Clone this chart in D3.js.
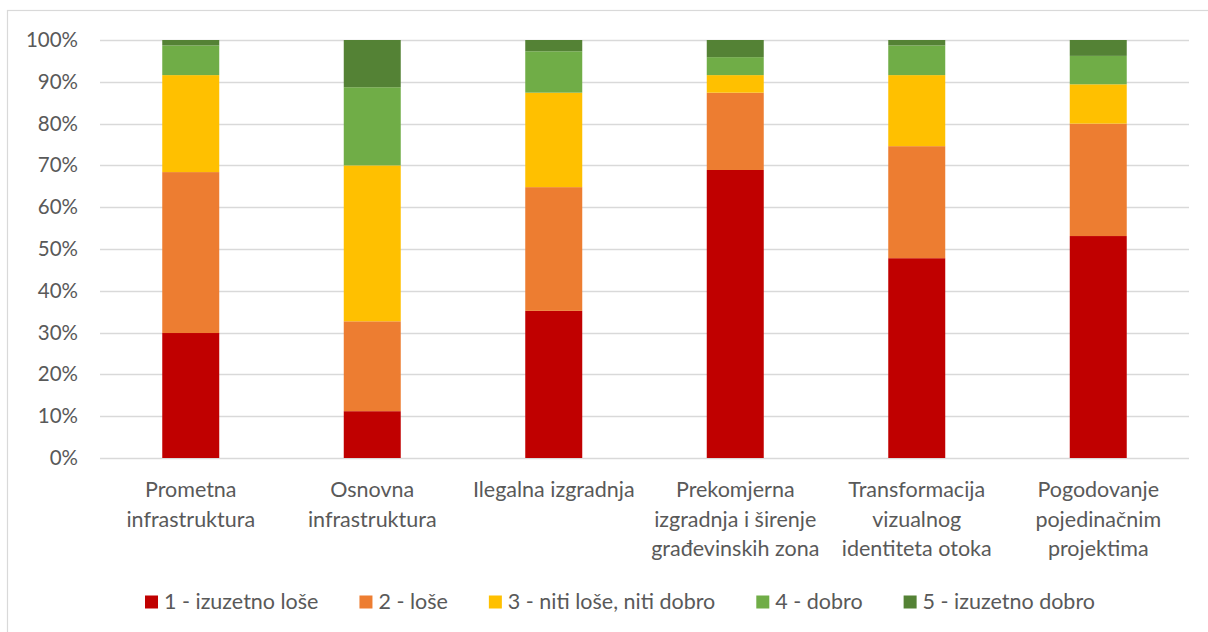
<!DOCTYPE html>
<html>
<head>
<meta charset="utf-8">
<script src="https://cdn.jsdelivr.net/npm/d3@7"></script>
<style>
	body { margin: 0; background: #fff; }
	svg { display: block; font-family: Lato, "Open Sans", sans-serif; }
	.tick-label, .cat-label, .legend-label { fill: #595959; }
</style>
</head>
<body>
<svg id="chart" width="1208" height="632"></svg>
<script>
// categories (lines of each x label)
var categories = [
	["Prometna", "infrastruktura"],
	["Osnovna", "infrastruktura"],
	["Ilegalna izgradnja"],
	["Prekomjerna", "izgradnja i širenje", "građevinskih zona"],
	["Transformacija", "vizualnog", "identiteta otoka"],
	["Pogodovanje", "pojedinačnim", "projektima"]
];
var seriesNames = ["1 - izuzetno loše", "2 - loše", "3 - niti loše, niti dobro", "4 - dobro", "5 - izuzetno dobro"];
var seriesColors = ["#C00000", "#ED7D31", "#FFC000", "#70AD47", "#548235"];

// share of answers (%) per category, one array per series
var izuzetnoLose = [29.9, 11.2, 35.2, 68.9, 47.8, 53.1];
var lose         = [38.5, 21.5, 29.6, 18.5, 26.8, 26.9];
var nitiNiti     = [23.2, 37.3, 22.6,  4.2, 17.0,  9.4];
var dobro        = [ 7.1, 18.7,  9.9,  4.3,  7.1,  6.8];
var izuzetnoDobro= [ 1.3, 11.3,  2.7,  4.1,  1.3,  3.8];

var yTicks = [0, 10, 20, 30, 40, 50, 60, 70, 80, 90, 100];

function drawChart() {
	var series = [izuzetnoLose, lose, nitiNiti, dobro, izuzetnoDobro];
	var keys = seriesNames;

	// rows for d3.stack, normalised to 100%
	var rows = categories.map(function(c, i) {
		var row = { idx: i };
		var total = 0;
		series.forEach(function(s) { total += s[i]; });
		keys.forEach(function(k, j) { row[k] = series[j][i] / total * 100; });
		return row;
	});

	var stack = d3.stack().keys(keys);
	var layers = stack(rows);

	var plot = { left: 100, right: 1189, top: 40, bottom: 458 };
	var fontSize = 21.5,
		tickFontSize = 20.5;

	var svg = d3.select("#chart");

	// outer chart border (only top/left visible in the crop)
	svg.append("rect")
		.attr("x", 7.5).attr("y", 10.5)
		.attr("width", 1220).attr("height", 640)
		.attr("fill", "none")
		.attr("stroke", "#d9d9d9")
		.attr("stroke-width", 1.2);

	var x = d3.scaleBand()
		.domain(d3.range(categories.length))
		.range([plot.left, plot.right])
		.paddingInner(0.686)
		.paddingOuter(0.343);

	var y = d3.scaleLinear()
		.domain([0, 100])
		.range([plot.bottom, plot.top]);

	var color = d3.scaleOrdinal().domain(keys).range(seriesColors);

	// gridlines
	svg.append("g")
		.selectAll("line")
		.data(yTicks)
	  .enter()
		.append("line")
		.attr("x1", plot.left).attr("x2", plot.right)
		.attr("y1", function(d) { return Math.round(y(d)) + 0.5; })
		.attr("y2", function(d) { return Math.round(y(d)) + 0.5; })
		.attr("stroke", "#d9d9d9")
		.attr("stroke-width", 1.3);

	// y axis labels
	var yAxis = d3.axisLeft(y)
		.tickValues(yTicks)
		.tickFormat(function(d) { return d + "%"; })
		.tickSize(0)
		.tickPadding(22);
	var ya = svg.append("g")
		.attr("transform", "translate(" + plot.left + ",0)")
		.call(yAxis);
	ya.select(".domain").remove();
	ya.selectAll("text")
		.attr("class", "tick-label")
		.style("font-size", tickFontSize + "px")
		.style("font-family", "Lato, sans-serif");

	// stacked bars
	svg.append("g")
		.selectAll("g")
		.data(layers)
	  .enter()
		.append("g")
		.attr("fill", function(d) { return color(d.key); })
		.selectAll("rect")
		.data(function(d) { return d; })
	  .enter()
		.append("rect")
		.attr("x", function(d) { return x(d.data.idx); })
		.attr("width", x.bandwidth())
		.attr("y", function(d) { return y(d[1]); })
		.attr("height", function(d) { return y(d[0]) - y(d[1]); });

	// category labels
	var lineH = 29.5;
	var cat = svg.append("g")
		.selectAll("text")
		.data(categories)
	  .enter()
		.append("text")
		.attr("class", "cat-label")
		.attr("text-anchor", "middle")
		.style("font-size", fontSize + "px")
		.attr("y", 497);
	cat.each(function(lines, i) {
		var t = d3.select(this);
		lines.forEach(function(l, j) {
			t.append("tspan")
				.attr("x", x(i) + x.bandwidth() / 2)
				.attr("dy", j === 0 ? 0 : lineH)
				.text(l);
		});
	});

	// legend
	var sq = 13, sqGap = 6, itemGap = 41;
	var legend = svg.append("g");
	var items = legend.selectAll("g")
		.data(keys)
	  .enter()
		.append("g");
	items.append("rect")
		.attr("width", sq).attr("height", sq)
		.attr("y", 595.5)
		.attr("fill", function(d) { return color(d); });
	items.append("text")
		.attr("class", "legend-label")
		.attr("x", sq + sqGap)
		.attr("y", 609)
		.style("font-size", fontSize + "px")
		.text(function(d) { return d; });

	var widths = [];
	items.each(function() {
		widths.push(sq + sqGap + d3.select(this).select("text").node().getComputedTextLength());
	});
	var total = d3.sum(widths) + itemGap * (widths.length - 1);
	var cx = 620, pos = cx - total / 2;
	items.attr("transform", function(d, i) {
		var p = pos;
		pos += widths[i] + itemGap;
		return "translate(" + p + ",0)";
	});
}

drawChart();
</script>
</body>
</html>
